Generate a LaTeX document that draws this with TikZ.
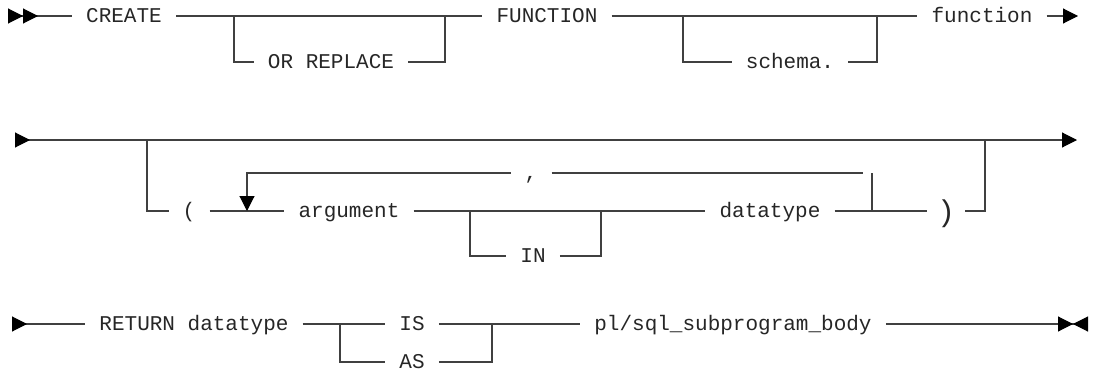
\documentclass[tikz,border=0pt]{standalone}
\usepackage{fontspec}
\setmainfont{Liberation Mono}
\usetikzlibrary{arrows.meta}

\begin{document}
\begin{tikzpicture}[
  x=1pt, y=-1pt,
  font=\fontsize{21}{25}\selectfont,
  >={Triangle[length=15pt, width=15pt, color=black]},
  kw/.style={inner xsep=14pt, inner ysep=0pt, text height=12pt, text depth=0pt,
             text=black!85},
  ln/.style={line width=1.1pt, draw=black!75},
  arr/.style={ln, -{>}},
  thru/.style={ln, {>}-{>}},
  beg/.style={ln, {>}-},
  begbeg/.style={ln, {>>}-},
  fin/.style={ln, -{>>[reversed]}}
]
\useasboundingbox (0,0) rectangle (1093,372);

% ================= row 1: CREATE ... function =================
\coordinate (s1) at (8,16);
\node[kw] (create) at (124,16) {CREATE};
\node[kw] (orrep) at (331,62) {OR REPLACE};
\node[kw] (fn) at (547,16) {FUNCTION};
\node[kw] (schema) at (790,62) {schema.};
\node[kw] (fname) at (982,16) {function};
\coordinate (e1) at (1078,16);
\coordinate (j1) at (234,16);
\coordinate (j2) at (445,16);
\coordinate (j3) at (683,16);
\coordinate (j4) at (877,16);

\draw[begbeg] (s1) -- (create.west);
\draw[ln] (create.east) -- (fn.west);
\draw[ln] (j1) |- (orrep.west);
\draw[ln] (orrep.east) -| (j2);
\draw[ln] (fn.east) -- (fname.west);
\draw[ln] (j3) |- (schema.west);
\draw[ln] (schema.east) -| (j4);
\draw[arr] (fname.east) -- (e1);

% ================= row 2: argument list =================
\coordinate (s2) at (15,140);
\coordinate (e2) at (1077,140);
\coordinate (j5) at (147,140);
\coordinate (j6) at (985,140);
\node[kw] (lpar) at (189,211) {(};
\node[kw] (arg) at (349,211) {argument};
\node[kw] (in) at (533,256) {IN};
\node[kw] (dtype) at (770,211) {datatype};
\node[kw, inner xsep=10pt, text height=20pt, font=\fontsize{30}{30}\selectfont] (rpar) at (946,211) {)};
\node[kw] (comma) at (531,173) {,};
\coordinate (lb) at (247,211);
\coordinate (ct) at (863,173);
\coordinate (rt) at (872,173);
\coordinate (rb) at (872,211);
\coordinate (j7) at (470,211);
\coordinate (j8) at (601,211);

\draw[thru] (s2) -- (e2);
\draw[ln] (j5) |- (lpar.west);
\draw[ln] (lpar.east) -- (arg.west);
\draw[ln] (arg.east) -- (dtype.west);
\draw[ln] (j7) |- (in.west);
\draw[ln] (in.east) -| (j8);
\draw[ln] (dtype.east) -- (rpar.west);
\draw[ln] (rpar.east) -| (j6);
% repeat loop
\draw[arr] (comma.west) -| (lb);
\draw[ln] (comma.east) -- (ct);
\draw[ln] (rt) -- (rb);

% ================= row 3: RETURN ... body =================
\coordinate (s3) at (12,324);
\node[kw] (ret) at (194,324) {RETURN datatype};
\node[kw] (is) at (412,324) {IS};
\node[kw] (as) at (412,362) {AS};
\node[kw] (body) at (733,324) {pl/sql\_subprogram\_body};
\coordinate (j9) at (340,324);
\coordinate (j10) at (492,324);
\coordinate (e3) at (1088,324);

\draw[beg] (s3) -- (ret.west);
\draw[ln] (ret.east) -- (is.west);
\draw[ln] (j9) |- (as.west);
\draw[ln] (as.east) -| (j10);
\draw[ln] (is.east) -- (body.west);
\draw[fin] (body.east) -- (e3);

\end{tikzpicture}
\end{document}
